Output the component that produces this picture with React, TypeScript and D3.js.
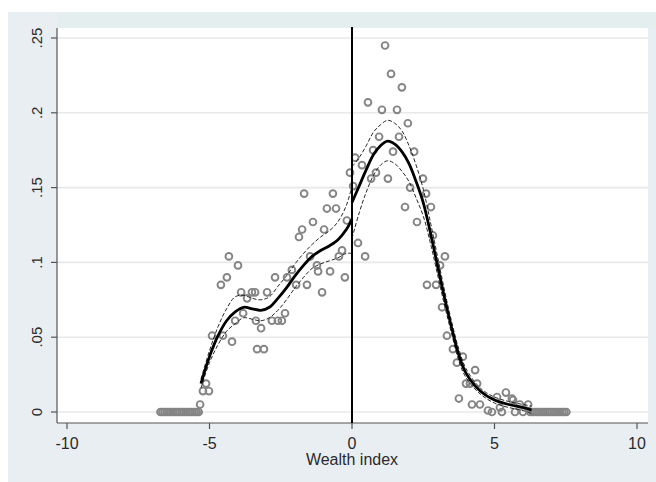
import React from "react";
import * as d3 from "d3";

const xTicks = [-10, -5, 0, 5, 10];
const yTicks = [0, 0.05, 0.1, 0.15, 0.2, 0.25];
const yTickLabels = ["0", ".05", ".1", ".15", ".2", ".25"];
const xLabel = "Wealth index";

// scatter: wealth index bins and observed share
const zeroLeftX = [-6.72, -6.65, -6.58, -6.5, -6.43, -6.36, -6.28, -6.2, -6.13, -6.05, -5.97, -5.9, -5.82, -5.74, -5.67, -5.6, -5.52, -5.45, -5.38];
const zeroRightX = [6.25, 6.33, 6.4, 6.48, 6.55, 6.63, 6.7, 6.78, 6.86, 6.93, 7.0, 7.08, 7.15, 7.23, 7.3, 7.38, 7.45, 7.52];

const scatterX = [
  -5.33, -5.23, -5.02, -5.12, -4.91, -4.53, -4.21, -4.1, -3.82, -4.6, -4.39, -4.32, -4.0, -3.89, -3.68, -3.51, -3.4,
  -3.37, -3.19, -3.33, -3.09, -2.98, -2.81, -2.6, -2.46, -2.35, -2.7, -2.28, -2.11, -1.96, -1.58, -1.47, -1.23, -1.19,
  -1.05, -0.77, -0.46, -0.35, -0.25, -1.68, -0.67, -0.88, -0.56, -1.37, -1.75, -1.86, -0.98, -0.18, -0.07,
  0.11, 0.35, 0.04, 0.21, 0.46, 1.16, 1.37, 1.75, 0.56, 1.05, 1.58, 1.96, 0.95, 1.65, 0.74, 1.44, 2.18, 0.84, 0.67,
  1.26, 2.49, 2.04, 2.6, 2.77, 1.86, 2.28, 2.84, 3.26, 3.09, 2.63, 2.95, 3.16, 3.33, 3.54, 3.68, 3.89, 4.32, 4.0,
  4.14, 4.39, 3.75, 4.21, 4.49, 4.77, 4.91, 5.09, 5.26, 5.4, 5.61, 5.72, 5.89, 6.18, 6.0, 5.19, 5.65,
];
const scatterY = [
  0.005, 0.014, 0.014, 0.019, 0.051, 0.051, 0.047, 0.061, 0.066, 0.085, 0.09, 0.104, 0.098, 0.08, 0.076, 0.08, 0.08,
  0.061, 0.056, 0.042, 0.042, 0.08, 0.061, 0.061, 0.061, 0.066, 0.09, 0.09, 0.095, 0.085, 0.085, 0.104, 0.098, 0.094,
  0.08, 0.094, 0.104, 0.108, 0.09, 0.146, 0.146, 0.136, 0.136, 0.127, 0.122, 0.117, 0.122, 0.128, 0.16,
  0.17, 0.165, 0.151, 0.113, 0.104, 0.245, 0.226, 0.217, 0.207, 0.202, 0.202, 0.193, 0.184, 0.184, 0.175, 0.174, 0.174, 0.16, 0.156,
  0.156, 0.156, 0.15, 0.146, 0.137, 0.137, 0.127, 0.118, 0.104, 0.098, 0.085, 0.085, 0.07, 0.051, 0.042, 0.033, 0.037, 0.028, 0.019,
  0.019, 0.019, 0.009, 0.005, 0.005, 0.001, 0.0, 0.01, 0.0, 0.013, 0.009, 0.0, 0.005, 0.005, 0.0, 0.003, 0.008,
];

// local polynomial fit, left of cutoff
const leftX = [-5.3, -5.0, -4.7, -4.4, -4.1, -3.8, -3.5, -3.2, -2.9, -2.6, -2.3, -2.0, -1.7, -1.4, -1.1, -0.8, -0.5, -0.2, 0];
const leftFit = [0.019, 0.037, 0.051, 0.061, 0.067, 0.07, 0.069, 0.068, 0.07, 0.076, 0.083, 0.091, 0.098, 0.104, 0.108, 0.111, 0.115, 0.122, 0.129];
const leftHi = [0.022, 0.041, 0.057, 0.069, 0.077, 0.078, 0.076, 0.075, 0.077, 0.084, 0.091, 0.099, 0.106, 0.112, 0.117, 0.121, 0.127, 0.138, 0.151];
const leftLo = [0.016, 0.033, 0.045, 0.054, 0.059, 0.063, 0.062, 0.061, 0.063, 0.068, 0.075, 0.083, 0.09, 0.096, 0.099, 0.101, 0.103, 0.106, 0.106];

// local polynomial fit, right of cutoff
const rightX = [0, 0.25, 0.5, 0.75, 1.0, 1.25, 1.5, 1.75, 2.0, 2.25, 2.5, 2.75, 3.0, 3.25, 3.5, 3.75, 4.0, 4.5, 5.0, 5.5, 6.0, 6.3];
const rightFit = [0.14, 0.151, 0.162, 0.172, 0.178, 0.181, 0.179, 0.174, 0.166, 0.154, 0.14, 0.12, 0.098, 0.076, 0.056, 0.038, 0.026, 0.014, 0.008, 0.005, 0.003, 0.0013];
const rightHi = [0.164, 0.17, 0.178, 0.187, 0.192, 0.195, 0.193, 0.188, 0.178, 0.165, 0.149, 0.127, 0.104, 0.081, 0.06, 0.042, 0.029, 0.016, 0.01, 0.007, 0.005, 0.004];
const rightLo = [0.116, 0.133, 0.147, 0.158, 0.165, 0.168, 0.166, 0.161, 0.154, 0.143, 0.131, 0.113, 0.092, 0.071, 0.052, 0.034, 0.023, 0.012, 0.006, 0.003, 0.001, -0.001];

const W = 656;
const H = 482;
const plotL = 57;
const plotR = 648;
const plotT = 28;
const plotB = 423;

export default function App() {
  const x = d3.scaleLinear().domain([-10, 10]).range([67, 637]);
  const y = d3.scaleLinear().domain([0, 0.25]).range([412, 38]);

  const line = d3
    .line<[number, number]>()
    .x((d) => x(d[0]))
    .y((d) => y(d[1]))
    .curve(d3.curveCatmullRom.alpha(0.5));

  const zip = (xs: number[], ys: number[]) => xs.map((v, i) => [v, ys[i]] as [number, number]);

  const pts: [number, number][] = [
    ...zeroLeftX.map((v) => [v, 0] as [number, number]),
    ...zeroRightX.map((v) => [v, 0] as [number, number]),
    ...zip(scatterX, scatterY),
  ];

  const font = "'Liberation Sans', Arial, sans-serif";
  const textColor = "#2a2a2a";

  return (
    <svg width={W} height={H} style={{ position: "absolute", left: 0, top: 0 }} fontFamily={font}>
      <rect x={0} y={0} width={W} height={H} fill="#ffffff" />
      <rect x={8} y={12} width={W - 8} height={H - 12} fill="#e9eef2" />
      <rect x={57} y={12} width={W - 57} height={16} fill="#e5eeee" />
      <rect x={plotL} y={plotT} width={plotR - plotL} height={plotB - plotT} fill="#ffffff" />

      {yTicks.map((t) => (
        <line key={"g" + t} x1={plotL} x2={plotR} y1={y(t)} y2={y(t)} stroke="#e8e8e8" strokeWidth={1.6} />
      ))}

      {/* axes */}
      <line x1={plotL} x2={plotL} y1={plotT} y2={plotB} stroke="#555" strokeWidth={1.2} />
      <line x1={plotL} x2={plotR} y1={plotB} y2={plotB} stroke="#555" strokeWidth={1.2} />

      {yTicks.map((t, i) => (
        <g key={"yt" + t}>
          <line x1={plotL - 6} x2={plotL} y1={y(t)} y2={y(t)} stroke="#555" strokeWidth={1.2} />
          <text
            transform={`translate(${42},${y(t)}) rotate(-90)`}
            textAnchor="middle"
            fontSize={15}
            fill={textColor}
          >
            {yTickLabels[i]}
          </text>
        </g>
      ))}

      {xTicks.map((t) => (
        <g key={"xt" + t}>
          <line x1={x(t)} x2={x(t)} y1={plotB} y2={plotB + 6} stroke="#555" strokeWidth={1.2} />
          <text x={x(t)} y={449} textAnchor="middle" fontSize={16} fill={textColor}>
            {t}
          </text>
        </g>
      ))}
      <text x={x(0)} y={465} textAnchor="middle" fontSize={16} fill={textColor}>
        {xLabel}
      </text>

      {/* scatter */}
      {pts.map((p, i) => (
        <circle key={"p" + i} cx={x(p[0])} cy={y(p[1])} r={3.4} fill="none" stroke="#858585" strokeWidth={1.9} />
      ))}

      {/* cutoff */}
      <line x1={x(0)} x2={x(0)} y1={plotT - 1} y2={plotB} stroke="#000" strokeWidth={2} />

      {/* confidence bands */}
      {[zip(leftX, leftHi), zip(leftX, leftLo), zip(rightX, rightHi), zip(rightX, rightLo)].map((d, i) => (
        <path key={"ci" + i} d={line(d) || ""} fill="none" stroke="#111" strokeWidth={0.9} strokeDasharray="4,2" />
      ))}

      {/* fits */}
      <path d={line(zip(leftX, leftFit)) || ""} fill="none" stroke="#000" strokeWidth={2.8} />
      <path d={line(zip(rightX, rightFit)) || ""} fill="none" stroke="#000" strokeWidth={2.8} />
    </svg>
  );
}
